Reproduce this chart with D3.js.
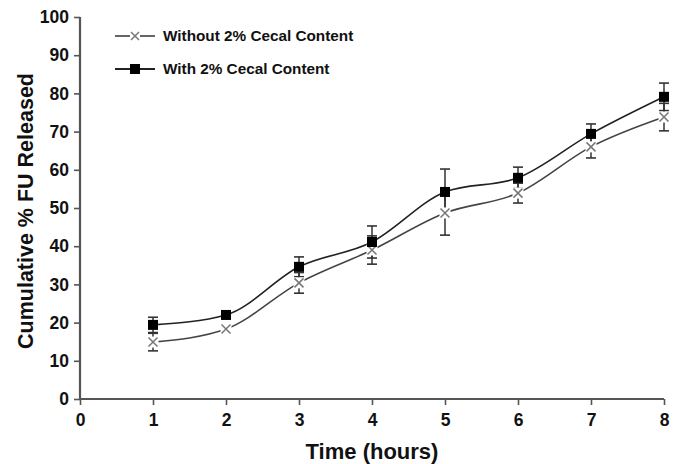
<!DOCTYPE html>
<html><head><meta charset="utf-8">
<script src="https://cdn.jsdelivr.net/npm/d3@7"></script>
<style>body{margin:0;background:#fff}svg{display:block;font-family:"Liberation Sans",Arial,sans-serif}</style>
</head><body><svg id="c" width="673" height="464"></svg>
<script>
const hours = [1,2,3,4,5,6,7,8];
const withCecal = [19.4,22,34.6,41.1,54.2,57.9,69.4,79.1];
const withCecalErr = [2,0.6,2.6,4.2,6,2.8,2.6,3.6];
const withoutCecal = [14.9,18.3,30.4,39,48.7,53.9,66,73.8];
const withoutCecalErr = [2.3,0.6,2.7,3.7,5.8,2.6,2.9,3.6];
const xTicks = [0,1,2,3,4,5,6,7,8];
const yTicks = [0,10,20,30,40,50,60,70,80,90,100];
const legendLabels = ["Without 2% Cecal Content","With 2% Cecal Content"];

const svg = d3.select("#c");
const x = d3.scaleLinear().domain([0,8]).range([80,664]);
const y = d3.scaleLinear().domain([0,100]).range([399,17]);
const axisColor = "#555";

// axes
const xa = svg.append("g").attr("transform","translate(0,399)")
  .call(d3.axisBottom(x).tickValues(xTicks).tickSize(6).tickPadding(9).tickFormat(d3.format("d")));
const ya = svg.append("g").attr("transform","translate(80,0)")
  .call(d3.axisLeft(y).tickValues(yTicks).tickSize(6).tickPadding(5).tickFormat(d3.format("d")));
[xa,ya].forEach(a=>{
  a.select(".domain").attr("stroke",axisColor).attr("stroke-width",2.2);
  a.selectAll(".tick line").attr("stroke",axisColor).attr("stroke-width",1.6);
  a.selectAll(".tick text").attr("fill","#111").style("font-size","17.5px").style("font-weight","bold");
});
xa.select(".domain").attr("d","M80,0H664");
ya.select(".domain").attr("d","M0,399V17");

// titles
svg.append("text").attr("x",372).attr("y",459).attr("text-anchor","middle")
  .style("font-size","22px").style("font-weight","bold").attr("fill","#111").text("Time (hours)");
svg.append("text").attr("transform","translate(33,211) rotate(-90)").attr("text-anchor","middle")
  .style("font-size","21.5px").style("font-weight","bold").attr("fill","#111").text("Cumulative % FU Released");

const line = d3.line().x((d,i)=>x(hours[i])).y(d=>y(d)).curve(d3.curveMonotoneX);

function series(vals, errs, lineCol){
  svg.append("path").datum(vals).attr("d",line).attr("fill","none")
    .attr("stroke",lineCol).attr("stroke-width",1.6);
  const g = svg.append("g");
  vals.forEach((v,i)=>{
    const cx = x(hours[i]), t = y(v+errs[i]), b = y(v-errs[i]);
    g.append("line").attr("x1",cx).attr("x2",cx).attr("y1",t).attr("y2",b).attr("stroke","#333").attr("stroke-width",1.5);
    g.append("line").attr("x1",cx-5).attr("x2",cx+5).attr("y1",t).attr("y2",t).attr("stroke","#333").attr("stroke-width",1.6);
    g.append("line").attr("x1",cx-5).attr("x2",cx+5).attr("y1",b).attr("y2",b).attr("stroke","#333").attr("stroke-width",1.6);
  });
  return g;
}
series(withoutCecal, withoutCecalErr, "#444");
series(withCecal, withCecalErr, "#222");

function xMark(g,cx,cy,s){
  g.append("rect").attr("x",cx-s-1).attr("y",cy-s-1).attr("width",2*s+2).attr("height",2*s+2).attr("fill","#fff");
  g.append("path").attr("d",`M${cx-s},${cy-s}L${cx+s},${cy+s}M${cx-s},${cy+s}L${cx+s},${cy-s}`)
    .attr("stroke","#777").attr("stroke-width",1.5).attr("fill","none");
}
function sqMark(g,cx,cy,s){
  g.append("rect").attr("x",cx-s).attr("y",cy-s).attr("width",2*s).attr("height",2*s).attr("fill","#000");
}
const mk = svg.append("g");
withoutCecal.forEach((v,i)=>xMark(mk,x(hours[i]),y(v),4.5));
withCecal.forEach((v,i)=>sqMark(mk,x(hours[i]),y(v),5));

// legend
const lg = svg.append("g");
[[36,"#777"],[69,"#222"]].forEach(([ly,col],i)=>{
  lg.append("line").attr("x1",115).attr("x2",155).attr("y1",ly).attr("y2",ly).attr("stroke",i?"#222":"#666").attr("stroke-width",1.8);
  if(i===0) xMark(lg,135,ly,4); else sqMark(lg,135,ly,5);
  lg.append("text").attr("x",163).attr("y",ly+5).style("font-size","15.3px").style("font-weight","bold")
    .attr("fill","#111").text(legendLabels[i]);
});
</script></body></html>
